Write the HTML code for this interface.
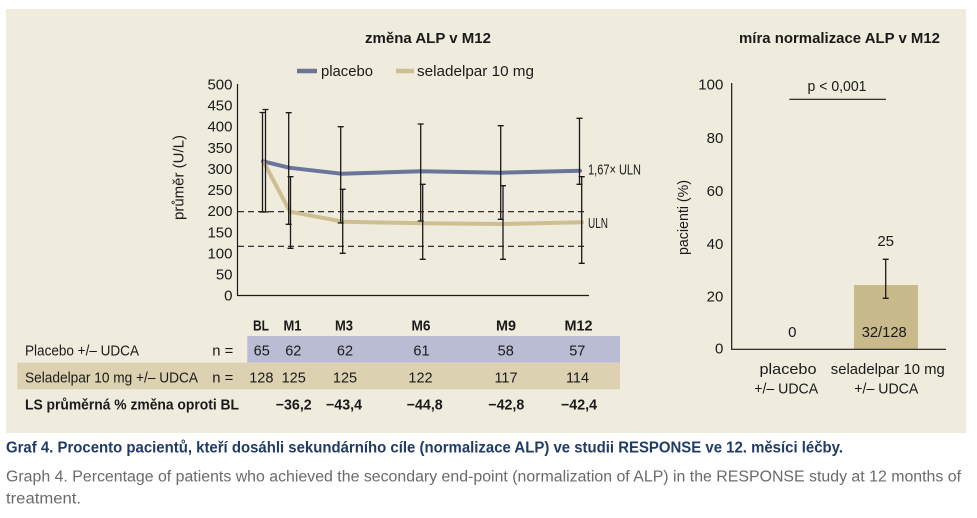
<!DOCTYPE html>
<html><head><meta charset="utf-8"><style>
html,body{margin:0;padding:0;background:#fff;}
svg{display:block;}
text{font-family:"Liberation Sans",sans-serif;fill:#1a1a1a;}
.b{font-weight:bold;}
</style></head><body>
<svg width="977" height="518" viewBox="0 0 977 518" xmlns="http://www.w3.org/2000/svg">
<rect x="0" y="0" width="977" height="518" fill="#ffffff"/>
<rect x="6" y="9" width="960" height="424" fill="#efebdd"/>

<!-- LEFT CHART -->
<text class="b" x="428" y="43" font-size="15" text-anchor="middle" textLength="126" lengthAdjust="spacingAndGlyphs">změna ALP v M12</text>
<line x1="297" y1="71" x2="317" y2="71" stroke="#6b7599" stroke-width="4.5"/>
<text x="321" y="76" font-size="15" textLength="52" lengthAdjust="spacingAndGlyphs">placebo</text>
<line x1="396" y1="71" x2="414" y2="71" stroke="#cdbf92" stroke-width="4.5"/>
<text x="417" y="76" font-size="15" textLength="117" lengthAdjust="spacingAndGlyphs">seladelpar 10 mg</text>

<text x="183.5" y="177.5" font-size="15" text-anchor="middle" transform="rotate(-90 183.5 177.5)" textLength="85" lengthAdjust="spacingAndGlyphs">průměr (U/L)</text>

<g font-size="15" text-anchor="end">
<text x="232.5" y="300.7">0</text>
<text x="232.5" y="279.6">50</text>
<text x="232.5" y="258.5">100</text>
<text x="232.5" y="237.3">150</text>
<text x="232.5" y="216.2">200</text>
<text x="232.5" y="195.1">250</text>
<text x="232.5" y="174.0">300</text>
<text x="232.5" y="152.9">350</text>
<text x="232.5" y="131.7">400</text>
<text x="232.5" y="110.6">450</text>
<text x="232.5" y="89.5">500</text>
</g>

<line x1="237.5" y1="84" x2="237.5" y2="295.5" stroke="#1a1a1a" stroke-width="1.2"/>
<line x1="237" y1="295.5" x2="589" y2="295.5" stroke="#1a1a1a" stroke-width="1.2"/>

<line x1="238" y1="211.7" x2="586" y2="211.7" stroke="#1a1a1a" stroke-width="1.1" stroke-dasharray="6,4"/>
<line x1="238" y1="246.3" x2="586" y2="246.3" stroke="#1a1a1a" stroke-width="1.1" stroke-dasharray="6,4"/>

<!-- series lines -->
<polyline points="263,161.3 289,167.7 341,173.7 421,171.3 501,172.7 580,170.7" fill="none" stroke="#6b7599" stroke-width="4" stroke-linejoin="round" stroke-linecap="round"/>
<polyline points="264,162.7 290,211.7 343,221.7 423,223.3 503,224 582,222.3" fill="none" stroke="#cdbf92" stroke-width="4" stroke-linejoin="round" stroke-linecap="round"/>

<!-- error bars -->
<g stroke="#1a1a1a" stroke-width="1.3" fill="none">
<path d="M262.5 112.5V212 M259.5 112.5h6 M259.5 212h6"/>
<path d="M265.5 109.5V212 M262.5 109.5h6 M262.5 212h6"/>
<path d="M288.7 112.7V224.3 M285.7 112.7h6 M285.7 224.3h6"/>
<path d="M290.5 176.7V248.3 M287.5 176.7h6 M287.5 248.3h6"/>
<path d="M340.7 126.7V223 M337.7 126.7h6 M337.7 223h6"/>
<path d="M342.7 189.3V253.3 M339.7 189.3h6 M339.7 253.3h6"/>
<path d="M420.7 124V221 M417.7 124h6 M417.7 221h6"/>
<path d="M422.7 184.3V259.3 M419.7 184.3h6 M419.7 259.3h6"/>
<path d="M500.7 125.7V219.3 M497.7 125.7h6 M497.7 219.3h6"/>
<path d="M503 185.7V259.3 M500 185.7h6 M500 259.3h6"/>
<path d="M579.5 118.3V184.3 M576.5 118.3h6 M576.5 184.3h6"/>
<path d="M581.7 176.7V263.3 M578.7 176.7h6 M578.7 263.3h6"/>
</g>

<text x="588" y="174.5" font-size="15" textLength="53" lengthAdjust="spacingAndGlyphs">1,67× ULN</text>
<text x="588" y="228" font-size="15" textLength="20" lengthAdjust="spacingAndGlyphs">ULN</text>

<!-- TABLE -->
<rect x="247.3" y="336" width="372.7" height="26.7" fill="#b9bcd2"/>
<rect x="17.3" y="362.7" width="602.7" height="26.5" fill="#dcd2b1"/>

<g class="b" font-size="15" text-anchor="middle">
<text class="b" x="261" y="330.5" textLength="16" lengthAdjust="spacingAndGlyphs">BL</text>
<text class="b" x="292.5" y="330.5" textLength="18" lengthAdjust="spacingAndGlyphs">M1</text>
<text class="b" x="344" y="330.5" textLength="18" lengthAdjust="spacingAndGlyphs">M3</text>
<text class="b" x="421" y="330.5" textLength="19" lengthAdjust="spacingAndGlyphs">M6</text>
<text class="b" x="506" y="330.5" textLength="20" lengthAdjust="spacingAndGlyphs">M9</text>
<text class="b" x="578.5" y="330.5" textLength="28" lengthAdjust="spacingAndGlyphs">M12</text>
</g>

<text x="25" y="355.5" font-size="15" textLength="114" lengthAdjust="spacingAndGlyphs">Placebo +/– UDCA</text>
<text x="212.3" y="355.5" font-size="15" textLength="21" lengthAdjust="spacingAndGlyphs">n =</text>
<g font-size="14.5" text-anchor="middle">
<text x="261.7" y="355.5">65</text>
<text x="293.3" y="355.5">62</text>
<text x="345" y="355.5">62</text>
<text x="421.5" y="355.5">61</text>
<text x="505.7" y="355.5">58</text>
<text x="577.3" y="355.5">57</text>
</g>

<text x="25" y="382.5" font-size="15" textLength="173" lengthAdjust="spacingAndGlyphs">Seladelpar 10 mg +/– UDCA</text>
<text x="212.3" y="382.5" font-size="15" textLength="21" lengthAdjust="spacingAndGlyphs">n =</text>
<g font-size="14.5" text-anchor="middle">
<text x="261.3" y="382.5">128</text>
<text x="293.7" y="382.5">125</text>
<text x="345" y="382.5">125</text>
<text x="420.5" y="382.5">122</text>
<text x="506" y="382.5">117</text>
<text x="577.5" y="382.5">114</text>
</g>

<text class="b" x="25" y="409.5" font-size="15" textLength="214" lengthAdjust="spacingAndGlyphs">LS průměrná % změna oproti BL</text>
<g font-size="14.5" text-anchor="middle">
<text class="b" x="293.7" y="409.5" textLength="36" lengthAdjust="spacingAndGlyphs">−36,2</text>
<text class="b" x="344" y="409.5" textLength="36" lengthAdjust="spacingAndGlyphs">−43,4</text>
<text class="b" x="424.7" y="409.5" textLength="36" lengthAdjust="spacingAndGlyphs">−44,8</text>
<text class="b" x="506.3" y="409.5" textLength="36" lengthAdjust="spacingAndGlyphs">−42,8</text>
<text class="b" x="579" y="409.5" textLength="36" lengthAdjust="spacingAndGlyphs">−42,4</text>
</g>

<!-- RIGHT CHART -->
<text class="b" x="839.5" y="43" font-size="15" text-anchor="middle" textLength="201" lengthAdjust="spacingAndGlyphs">míra normalizace ALP v M12</text>

<text x="688" y="217.5" font-size="15" text-anchor="middle" transform="rotate(-90 688 217.5)" textLength="75" lengthAdjust="spacingAndGlyphs">pacienti (%)</text>

<g font-size="15" text-anchor="end">
<text x="723.3" y="89.7">100</text>
<text x="723.3" y="142.9">80</text>
<text x="723.3" y="196.1">60</text>
<text x="723.3" y="248.9">40</text>
<text x="723.3" y="301.7">20</text>
<text x="723.3" y="353.7">0</text>
</g>

<rect x="854" y="285" width="64" height="64.3" fill="#c9ba8b"/>
<line x1="731.7" y1="83" x2="731.7" y2="349.5" stroke="#1a1a1a" stroke-width="1.2"/>
<line x1="731" y1="349.3" x2="946" y2="349.3" stroke="#1a1a1a" stroke-width="1.2"/>

<g stroke="#1a1a1a" stroke-width="1.3" fill="none">
<path d="M885.7 259.3V298.3 M882.7 259.3h6 M882.7 298.3h6"/>
</g>

<line x1="789.3" y1="99.3" x2="886" y2="99.3" stroke="#1a1a1a" stroke-width="1.2"/>
<text x="837" y="91" font-size="15" text-anchor="middle" textLength="59" lengthAdjust="spacingAndGlyphs">p &lt; 0,001</text>

<text x="885.7" y="246" font-size="15" text-anchor="middle">25</text>
<text x="792.3" y="337" font-size="15" text-anchor="middle">0</text>
<text x="884.2" y="337" font-size="15" text-anchor="middle" textLength="45" lengthAdjust="spacingAndGlyphs">32/128</text>

<text x="788" y="374" font-size="15" text-anchor="middle" textLength="57" lengthAdjust="spacingAndGlyphs">placebo</text>
<text x="786.2" y="393.7" font-size="15" text-anchor="middle" textLength="64" lengthAdjust="spacingAndGlyphs">+/– UDCA</text>
<text x="887.8" y="374" font-size="15" text-anchor="middle" textLength="114" lengthAdjust="spacingAndGlyphs">seladelpar 10 mg</text>
<text x="886.3" y="393.7" font-size="15" text-anchor="middle" textLength="64" lengthAdjust="spacingAndGlyphs">+/– UDCA</text>

<!-- CAPTION -->
<text class="b" x="6" y="452.5" font-size="15.5" style="fill:#1f3b66" textLength="837" lengthAdjust="spacingAndGlyphs">Graf 4. Procento pacientů, kteří dosáhli sekundárního cíle (normalizace ALP) ve studii RESPONSE ve 12. měsíci léčby.</text>
<text x="6" y="481.5" font-size="15.5" style="fill:#6a6a6a" textLength="955" lengthAdjust="spacingAndGlyphs">Graph 4. Percentage of patients who achieved the secondary end-point (normalization of ALP) in the RESPONSE study at 12 months of</text>
<text x="6" y="503.5" font-size="15.5" style="fill:#6a6a6a" textLength="75" lengthAdjust="spacingAndGlyphs">treatment.</text>
</svg>
</body></html>
